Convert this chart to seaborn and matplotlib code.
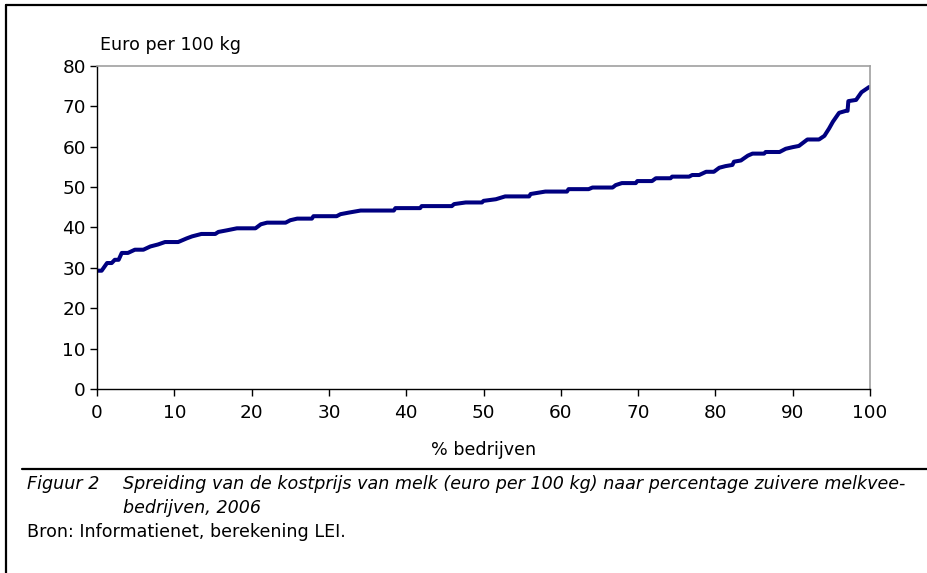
import matplotlib
matplotlib.use("Agg")
import matplotlib.pyplot as plt
import seaborn as sns
import pandas as pd
from matplotlib.lines import Line2D

pct_bedrijven = [0.0, 0.6, 1.3, 1.9, 2.3, 2.8, 3.2, 4.0, 4.9, 6.0, 6.9, 7.9, 8.8, 10.5,
                 11.6, 12.3, 13.5, 15.3, 15.7, 16.8, 18.1, 20.5, 21.2, 22.0, 24.4, 25.0,
                 25.9, 27.8, 28.0, 31.0, 31.5, 32.6, 34.1, 38.4, 38.6, 41.8, 42.0, 45.9,
                 46.2, 47.7, 49.8, 50.0, 51.6, 52.8, 55.9, 56.1, 58.0, 60.8, 61.0, 63.6,
                 64.1, 66.7, 67.1, 67.9, 69.7, 69.9, 71.8, 72.3, 74.2, 74.4, 76.6, 77.0,
                 77.9, 78.8, 79.8, 80.5, 81.3, 82.2, 82.4, 83.3, 84.2, 84.8, 86.3, 86.5,
                 88.3, 89.1, 90.0, 90.8, 91.9, 93.4, 94.1, 94.7, 95.2, 96.0, 96.9, 97.1,
                 97.2, 98.2, 98.9, 99.9]
kostprijs = [29.3, 29.3, 31.2, 31.2, 32.0, 32.0, 33.7, 33.7, 34.5, 34.5, 35.3, 35.8, 36.4, 36.4,
             37.3, 37.8, 38.4, 38.4, 38.9, 39.3, 39.8, 39.8, 40.8, 41.2, 41.2, 41.8,
             42.2, 42.2, 42.8, 42.8, 43.3, 43.7, 44.2, 44.2, 44.8, 44.8, 45.3, 45.3,
             45.8, 46.2, 46.2, 46.6, 47.0, 47.7, 47.7, 48.3, 48.9, 48.9, 49.5, 49.5,
             49.9, 49.9, 50.5, 51.0, 51.0, 51.5, 51.5, 52.2, 52.2, 52.6, 52.6, 53.0,
             53.0, 53.8, 53.8, 54.8, 55.2, 55.5, 56.3, 56.6, 57.8, 58.3, 58.3, 58.7,
             58.7, 59.5, 59.9, 60.2, 61.8, 61.8, 62.7, 64.5, 66.2, 68.4, 68.9, 68.9,
             71.3, 71.6, 73.5, 74.8]
x_ticks = [0, 10, 20, 30, 40, 50, 60, 70, 80, 90, 100]
y_ticks = [0, 10, 20, 30, 40, 50, 60, 70, 80]

sns.set_theme(style="white")
plt.rcParams['font.family'] = ['DejaVu Sans']
plt.rcParams['text.color'] = 'black'

W, H = 927, 573
df = pd.DataFrame({"pct": pct_bedrijven, "prijs": kostprijs})

fig = plt.figure(figsize=(9.27, 5.73), dpi=100)
ax_left, ax_right, ax_top, ax_bottom = 97, 870, 66, 389
ax = fig.add_axes([ax_left / W, 1 - ax_bottom / H, (ax_right - ax_left) / W,
                   (ax_bottom - ax_top) / H])
sns.lineplot(data=df, x="pct", y="prijs", ax=ax, color="#000080", linewidth=2.9,
             estimator=None, sort=False)

ax.set_xlim(0, 100)
ax.set_ylim(0, 80)
ax.set_xticks(x_ticks)
ax.set_yticks(y_ticks)
ax.tick_params(axis="both", which="both", direction="out", length=5, width=1,
               color="black", labelsize=13.3, labelcolor="black", pad=3)
ax.tick_params(axis="x", pad=6)
ax.tick_params(bottom=True, left=True)
for s in ["left", "bottom"]:
    ax.spines[s].set_color("black")
    ax.spines[s].set_linewidth(1.0)
for s in ["top", "right"]:
    ax.spines[s].set_color("#a0a0a0")
    ax.spines[s].set_linewidth(1.2)
ax.set_xlabel("")
ax.set_ylabel("")
ax.grid(False)

fs = 12.6
fig.text(100 / W, 1 - 45 / H, "Euro per 100 kg", fontsize=fs, ha="left", va="center")
fig.text((ax_left + ax_right) / 2 / W, 1 - 450 / H, "% bedrijven", fontsize=fs,
         ha="center", va="center")

fig.text(27 / W, 1 - 484 / H, "Figuur 2", fontsize=fs, style="italic", ha="left", va="center")
fig.text(123 / W, 1 - 484 / H,
         "Spreiding van de kostprijs van melk (euro per 100 kg) naar percentage zuivere melkvee-",
         fontsize=fs, style="italic", ha="left", va="center")
fig.text(123 / W, 1 - 508 / H, "bedrijven, 2006", fontsize=fs, style="italic",
         ha="left", va="center")
fig.text(27 / W, 1 - 532 / H, "Bron: Informatienet, berekening LEI.", fontsize=fs,
         ha="left", va="center")

# frame lines
fig.add_artist(Line2D([6 / W, 1.0], [1 - 5 / H, 1 - 5 / H], color="black", linewidth=1.6))
fig.add_artist(Line2D([6 / W, 6 / W], [0.0, 1 - 5 / H], color="black", linewidth=1.6))
fig.add_artist(Line2D([22 / W, 1.0], [1 - 469 / H, 1 - 469 / H], color="black", linewidth=1.6))

fig.savefig("out.png", dpi=100)
